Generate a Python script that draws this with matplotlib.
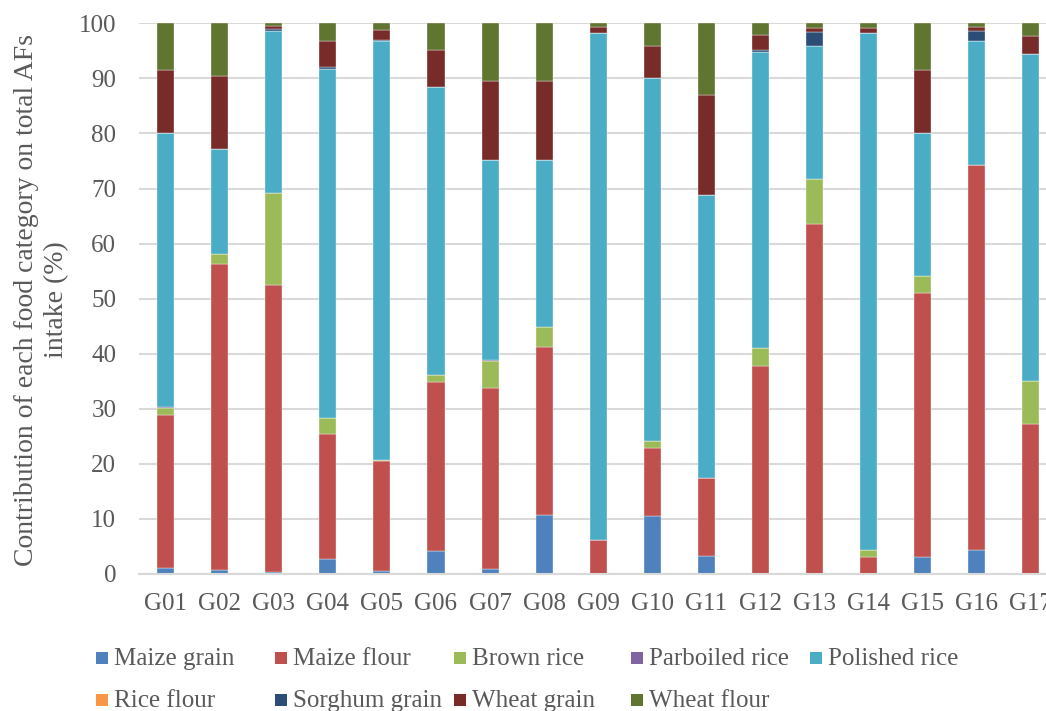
import matplotlib
matplotlib.use("Agg")
import matplotlib.pyplot as plt
from matplotlib.patches import Rectangle
import numpy as np

groups = ["G01", "G02", "G03", "G04", "G05", "G06", "G07", "G08", "G09",
          "G10", "G11", "G12", "G13", "G14", "G15", "G16", "G17"]

maize_grain    = [1.0, 0.7, 0.4, 2.7, 0.5, 4.2, 0.9, 10.8, 0.0, 10.5, 3.2, 0.0, 0.0, 0.0, 3.1, 4.3, 0.0]
maize_flour    = [27.8, 55.6, 52.1, 22.7, 20.0, 30.7, 32.8, 30.5, 6.1, 12.3, 14.3, 37.8, 63.6, 3.0, 48.0, 69.9, 27.3]
brown_rice     = [1.3, 1.8, 16.6, 2.9, 0.2, 1.2, 5.0, 3.5, 0.0, 1.4, 0.0, 3.2, 8.1, 1.4, 3.1, 0.0, 7.7]
parboiled_rice = [0.3, 0.0, 0.0, 0.0, 0.0, 0.0, 0.2, 0.0, 0.0, 0.0, 0.0, 0.0, 0.0, 0.0, 0.0, 0.0, 0.0]
polished_rice  = [49.6, 19.1, 29.5, 63.4, 76.0, 52.3, 36.3, 30.3, 92.2, 65.9, 51.4, 53.8, 24.1, 93.8, 25.9, 22.6, 59.5]
rice_flour     = [0.0, 0.0, 0.0, 0.0, 0.0, 0.0, 0.0, 0.0, 0.0, 0.0, 0.0, 0.0, 0.0, 0.0, 0.0, 0.0, 0.0]
sorghum_grain  = [0.0, 0.0, 0.3, 0.4, 0.2, 0.0, 0.0, 0.0, 0.0, 0.0, 0.0, 0.3, 2.6, 0.0, 0.0, 1.8, 0.0]
wheat_grain    = [11.6, 13.3, 0.6, 4.6, 1.8, 6.7, 14.4, 14.5, 1.0, 5.8, 18.0, 2.7, 0.8, 1.0, 11.5, 0.8, 3.2]
wheat_flour    = [8.4, 9.5, 0.5, 3.3, 1.3, 4.9, 10.4, 10.4, 0.7, 4.1, 13.1, 2.2, 0.8, 0.8, 8.4, 0.6, 2.3]

series_names = ["Maize grain", "Maize flour", "Brown rice", "Parboiled rice", "Polished rice",
                "Rice flour", "Sorghum grain", "Wheat grain", "Wheat flour"]
series = [maize_grain, maize_flour, brown_rice, parboiled_rice, polished_rice,
          rice_flour, sorghum_grain, wheat_grain, wheat_flour]
colors = ["#4F81BD", "#C0504D", "#9BBB59", "#8064A2", "#4BACC6",
          "#F79646", "#2C4D75", "#772C2A", "#5F7530"]

yticks = [0, 10, 20, 30, 40, 50, 60, 70, 80, 90, 100]

plt.rcParams['font.family'] = ['Liberation Serif', 'DejaVu Serif']
TXT = "#595959"
FS = 18

W, H = 1046, 711
fig = plt.figure(figsize=(W / 100, H / 100), dpi=100)
ax_left, ax_right = 138.5, 1058.0
ax_top, ax_bot = 23.3, 574.0
ax = fig.add_axes([ax_left / W, 1 - ax_bot / H, (ax_right - ax_left) / W, (ax_bot - ax_top) / H])

x = np.arange(len(groups))
bottom = np.zeros(len(groups))
for name, vals, c in zip(series_names, series, colors):
    v = np.array(vals, dtype=float)
    ax.bar(x, v, bottom=bottom, width=0.315, color=c, label=name, zorder=3,
           edgecolor="#ffffff", linewidth=0.25)
    bottom += v

ax.set_xlim(-0.5, len(groups) - 0.5)
ax.set_ylim(0, 100)
ax.set_yticks(yticks)
ax.set_xticks(x)
ax.set_xticklabels(groups)
ax.tick_params(axis='both', length=0, labelsize=FS, labelcolor=TXT)
ax.tick_params(axis='y', pad=16)
ax.tick_params(axis='x', pad=14)
for s in ["top", "right", "left"]:
    ax.spines[s].set_visible(False)
ax.spines["bottom"].set_color("#D9D9D9")
ax.spines["bottom"].set_linewidth(1.5)
ax.spines["bottom"].set_zorder(4)
ax.yaxis.grid(True, color="#D9D9D9", linewidth=1.5, zorder=0)
ax.set_axisbelow(True)

fig.text(41.5 / W, 1 - 300 / H,
         "Contribution of each food category on total AFs\nintake (%)",
         rotation=90, ha="center", va="center", multialignment="center",
         fontsize=20, color=TXT, linespacing=1.3)

# legend, Excel-style uniform columns
col_x = [96, 275, 454, 631, 810]
row_y = [658, 700]
sq = 12
for i, (name, c) in enumerate(zip(series_names, colors)):
    r, k = divmod(i, 5)
    x0, yc = col_x[k], row_y[r]
    fig.add_artist(Rectangle((x0 / W, 1 - (yc + sq / 2) / H), sq / W, sq / H,
                             transform=fig.transFigure, facecolor=c, edgecolor="none"))
    fig.text((x0 + sq + 6) / W, 1 - (yc + 1) / H, name, ha="left", va="center",
             fontsize=FS, color=TXT)

fig.savefig("out.png", dpi=100)
